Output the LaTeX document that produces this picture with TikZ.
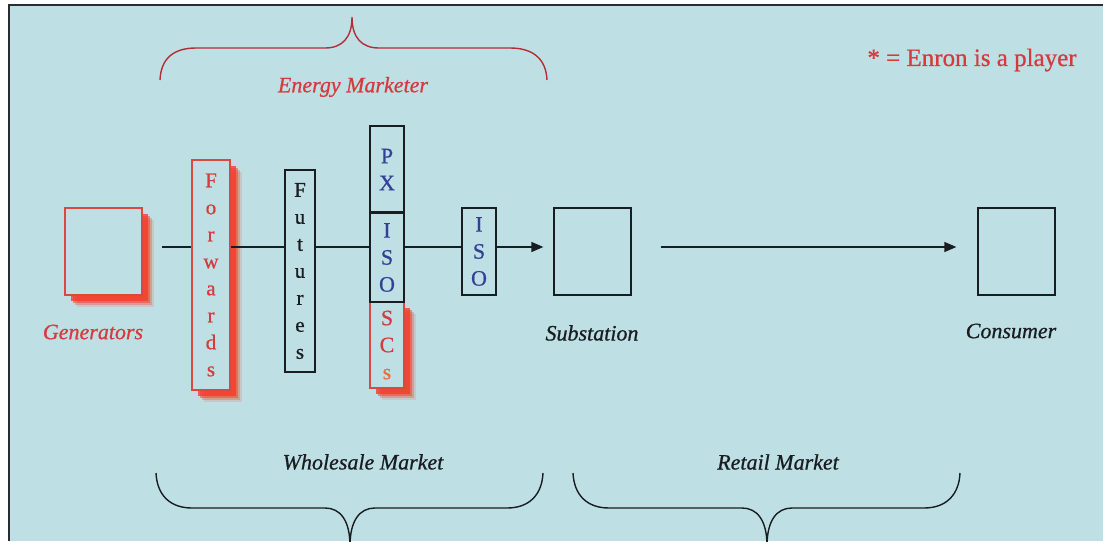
\documentclass[tikz,border=0pt]{standalone}
\usepackage{fontspec}
\setmainfont{Liberation Serif}[FakeBold=0.7]
\usepackage{xcolor}
\usepackage{tikz}
\usetikzlibrary{arrows.meta,shadows,positioning,calc}

\definecolor{panelblue}{RGB}{190,224,228}
\definecolor{framegray}{RGB}{40,45,50}
\definecolor{markred}{RGB}{214,58,62}
\definecolor{bracered}{RGB}{180,44,54}
\definecolor{boxred}{RGB}{218,72,62}
\definecolor{glowred}{RGB}{245,62,40}
\definecolor{sorange}{RGB}{232,110,70}
\definecolor{isoblue}{RGB}{48,66,150}
\definecolor{inkblack}{RGB}{25,28,32}

\begin{document}
\begin{tikzpicture}[x=1pt, y=-1pt,
		blackbox/.style={draw=inkblack, line width=1.3pt, fill=panelblue, inner sep=0pt},
		redbox/.style={draw=boxred, line width=1.3pt, fill=panelblue, inner sep=0pt,
			drop shadow={fill=glowred, opacity=0.15, shadow xshift=12pt, shadow yshift=-12pt},
			drop shadow={fill=glowred, opacity=0.3, shadow xshift=10pt, shadow yshift=-10pt},
			drop shadow={fill=glowred, opacity=0.5, shadow xshift=8pt, shadow yshift=-8pt},
			drop shadow={fill=glowred, opacity=0.8, shadow xshift=6pt, shadow yshift=-6pt}},
		letters/.style={align=center, font=\fontsize{22}{27}\selectfont},
		lbl/.style={font=\fontsize{22}{26}\selectfont\itshape},
		wire/.style={draw=inkblack, line width=1.3pt},
		brace/.style={line width=1.4pt}]
		\useasboundingbox (0,0) rectangle (1103,541);
		\fill[panelblue] (9,5) rectangle (1103,541);
		\draw[framegray, line width=2pt] (9,541) -- (9,5) -- (1103,5);

		% top brace
		\draw[brace, bracered] (160,80) .. controls (161,58) and (174,48) .. (196,48) -- (325,48)
			.. controls (342,48) and (352,38) .. (352,17) .. controls (352,38) and (362,48) .. (379,48)
			-- (510,48) .. controls (532,48) and (546,58) .. (547,80);
		\node[lbl, text=markred] (mktlbl) at (353,87) {Energy Marketer};
		\node[font=\fontsize{25}{29}\selectfont, text=markred] (note) at (972,60) {* = Enron is a player};

		% boxes
		\node[redbox, minimum width=77, minimum height=87] (gen) at (103.5,251.5) {};
		\node[lbl, text=markred] (genlbl) at (93,332) {Generators};
		\node[redbox, letters, font=\fontsize{21}{27}\selectfont, text=markred, minimum width=38, minimum height=230] (fwd) at (211,275) {F\\o\\r\\w\\a\\r\\d\\s};
		\node[blackbox, letters, font=\fontsize{21}{27}\selectfont, text=inkblack, minimum width=30, minimum height=202] (fut) at (300,271) {F\\u\\t\\u\\r\\e\\s};
		\node[redbox, letters, text=markred, minimum width=34, minimum height=86] (scs) at (387,345) {S\\C\\{\color{sorange}s}};
		\node[blackbox, letters, text=isoblue, minimum width=34, minimum height=87] (px) at (387,169.5) {P\\X};
		\node[blackbox, letters, text=isoblue, minimum width=34, minimum height=89] (iso) at (387,257.5) {I\\S\\O};
		\draw[inkblack, line width=2.6pt] (iso.north west) -- (iso.north east);
		\node[blackbox, letters, text=isoblue, minimum width=34, minimum height=87] (isob) at (479,251.5) {I\\S\\O};
		\node[blackbox, minimum width=77, minimum height=87] (sub) at (592.5,251.5) {};
		\node[lbl, text=inkblack] (sublbl) at (592,333) {Substation};
		\node[blackbox, minimum width=77, minimum height=87] (con) at (1016.5,251.5) {};
		\node[lbl, text=inkblack] (conlbl) at (1011,331) {Consumer};

		% wires
		\coordinate (w0) at (162,247);
		\draw[wire] (w0) -- (w0 -| fwd.west);
		\draw[wire] (w0 -| fwd.east) -- (w0 -| fut.west);
		\draw[wire] (w0 -| fut.east) -- (w0 -| iso.west);
		\draw[wire] (w0 -| iso.east) -- (w0 -| isob.west);
		\draw[wire, -{Triangle[length=12pt,width=10pt]}, shorten >=10pt] (w0 -| isob.east) -- (w0 -| sub.west);
		\draw[wire, -{Triangle[length=12pt,width=10pt]}, shorten <=29pt, shorten >=21pt] (w0 -| sub.east) -- (w0 -| con.west);

		% bottom braces
		\node[lbl, text=inkblack] (whlbl) at (363,462) {Wholesale Market};
		\draw[brace, inkblack] (156,473) .. controls (157,495) and (170,508) .. (192,508) -- (325,508)
			.. controls (340,508) and (350,520) .. (350,546) .. controls (350,520) and (360,508) .. (375,508)
			-- (507,508) .. controls (529,508) and (542,495) .. (543,473);
		\node[lbl, text=inkblack] (retlbl) at (778,462) {Retail Market};
		\draw[brace, inkblack] (573,473) .. controls (574,495) and (587,508) .. (609,508) -- (742,508)
			.. controls (757,508) and (767,520) .. (767,546) .. controls (767,520) and (777,508) .. (792,508)
			-- (924,508) .. controls (946,508) and (959,495) .. (960,473);
	\end{tikzpicture}
\end{document}
